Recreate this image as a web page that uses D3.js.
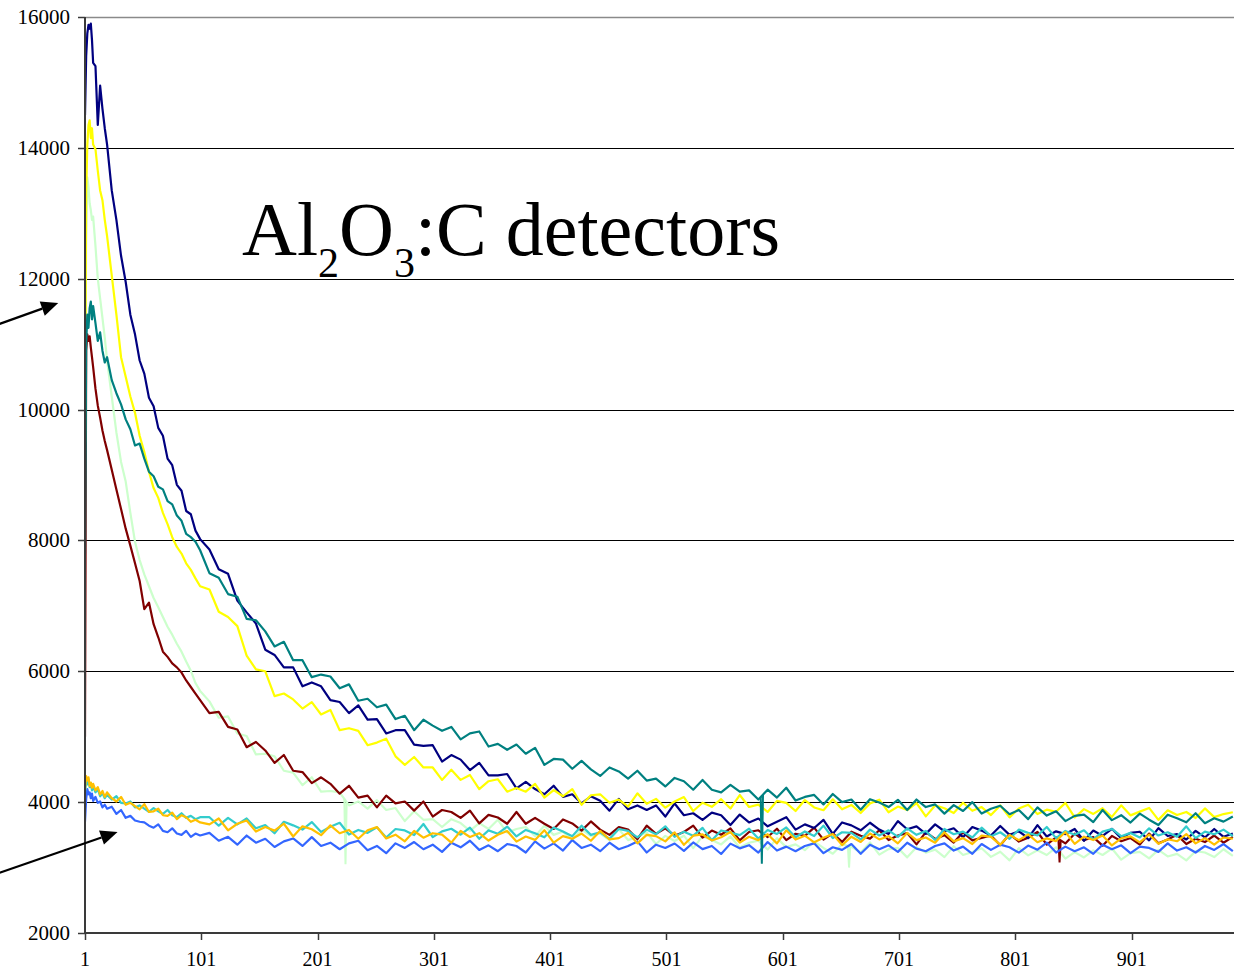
<!DOCTYPE html>
<html>
<head>
<meta charset="utf-8">
<script src="https://cdn.jsdelivr.net/npm/d3@7"></script>
<style>
  body { margin: 0; background: #fff; }
  svg { display: block; font-family: "Liberation Serif", "Times New Roman", serif; }
</style>
</head>
<body>
<div id="chart"></div>
<script>
// channel numbers the readings were taken at
const channels = [
  1, 2, 3, 4, 5, 6, 7, 8, 10, 12, 14, 16, 18, 20,
  24, 28, 32, 36, 40, 44, 48, 52, 56, 60, 64, 68, 72, 76, 80, 84, 88, 92, 96, 100,
  108, 116, 124, 132, 140, 148, 156, 164, 172, 180,
  188, 196, 204, 212, 220, 228, 236, 244, 252, 260,
  268, 276, 284, 292, 300, 308, 316, 324, 332, 340,
  348, 356, 364, 372, 380, 388, 396, 404, 412, 420,
  428, 436, 444, 452, 460, 468, 476, 484, 492, 500,
  508, 516, 524, 532, 540, 548, 556, 564, 572, 580,
  588, 596, 604, 612, 620, 628, 636, 644, 652, 660,
  668, 676, 684, 692, 700, 708, 716, 724, 732, 740,
  748, 756, 764, 772, 780, 788, 796, 804, 812, 820,
  828, 836, 844, 852, 860, 868, 876, 884, 892, 900,
  908, 916, 924, 932, 940, 948, 956, 964, 972, 980,
  988
];

const navy = [
  14500, 15400, 15750, 15880, 15820, 15900, 15650, 15300, 15250, 14350, 14950, 14600, 14300, 14050,
  13350, 12900, 12350, 11950, 11450, 11150, 10750, 10550, 10180, 10050, 9720, 9600, 9250, 9150, 8850, 8760, 8450, 8400, 8150, 8020,
  7860, 7560, 7490, 7080, 6900, 6730, 6330, 6250, 6060, 6060,
  5770, 5830, 5770, 5560, 5530, 5360, 5480, 5260, 5270, 5050,
  5100, 5100, 4880, 4860, 4870, 4620, 4720, 4650, 4490, 4600,
  4410, 4410, 4430, 4210, 4310, 4200, 4120, 4250, 4080, 4120,
  3980, 4090, 4020, 3870, 4050, 3890, 3950, 3880, 3950, 3780,
  3980, 3800, 3830, 3730, 3840, 3800, 3650, 3810, 3690, 3750,
  3630, 3700, 3770, 3580, 3660, 3605, 3730, 3515, 3690, 3645,
  3570, 3685, 3580, 3515, 3710, 3585, 3630, 3515, 3660, 3555,
  3600, 3465, 3620, 3565, 3490, 3635, 3500, 3555, 3450, 3648,
  3476, 3554, 3512, 3590, 3408, 3566, 3484, 3592, 3450, 3530,
  3548, 3416, 3604, 3482, 3510, 3430, 3560, 3460, 3590, 3470,
  3520
];

const teal = [
  7800, 11000, 11450, 11250, 11550, 11650, 11380, 11580, 11320, 11050, 11180, 10900, 10720, 10800,
  10450, 10250, 10080, 9850, 9700, 9450, 9480, 9250, 9050, 8980, 8820, 8780, 8600, 8550, 8380, 8300, 8100, 8050, 7980, 7850,
  7500, 7430, 7180, 7140, 6800, 6780, 6610, 6380, 6450, 6170,
  6170, 5910, 5950, 5920, 5740, 5800, 5550, 5580, 5450, 5490,
  5270, 5320, 5100, 5260, 5170, 5090, 5150, 4960, 5050, 5080,
  4850, 4890, 4800, 4880, 4740, 4830, 4570, 4660, 4650, 4510,
  4630, 4500, 4400, 4530, 4470, 4360, 4480, 4330, 4360, 4240,
  4370, 4320, 4190, 4340, 4190, 4150, 4265, 4160, 4180, 4040,
  4190, 4070, 4220, 4025, 4080, 4110, 3965, 4125, 4000, 4040,
  3885, 4045, 3995, 3925, 4035, 3880, 4040, 3925, 3965, 3825,
  3955, 3865, 4000, 3825, 3900, 3945, 3815, 3880, 3740, 3920,
  3795, 3860, 3710, 3790, 3810, 3695, 3880, 3725, 3800, 3688,
  3825, 3732, 3650, 3808, 3755, 3692, 3830, 3678, 3755, 3702,
  3780
];

const yellow = [
  9500, 13300, 14050, 14350, 14420, 14150, 14300, 14050, 13980, 13650, 13350, 13200, 12900, 12650,
  12050, 11450, 10800, 10500, 10200, 9950, 9600, 9350, 9050, 8800, 8650, 8420, 8250, 8050, 7900, 7800, 7650, 7550, 7420, 7300,
  7250, 6910, 6830, 6690, 6240, 6030, 6000, 5620, 5660, 5570,
  5430, 5530, 5340, 5410, 5100, 5130, 5090, 4870, 4910, 4970,
  4700, 4570, 4690, 4530, 4530, 4340, 4495, 4340, 4415, 4200,
  4320, 4350, 4160, 4215, 4160, 4280, 4070, 4185, 4090, 4200,
  3960, 4105, 4120, 3990, 4040, 3930, 4135, 3975, 4050, 3915,
  4010, 4077, 3864, 3991, 3928, 4045, 3902, 4109, 3926, 3963,
  3850, 4020, 3988, 3865, 4032, 3919, 3876, 4043, 3890, 3957,
  3834, 3981, 4038, 3845, 3932, 3879, 3986, 3783, 3950, 3907,
  3834, 3991, 3868, 3925, 3802, 3950, 3767, 3904, 3961, 3818,
  3885, 3852, 3989, 3766, 3893, 3820, 3907, 3774, 3951, 3798,
  3855, 3912, 3729, 3876, 3803, 3850, 3757, 3904, 3771, 3818,
  3845
];

const lightGreen = [
  9000, 12600, 13550, 13400, 13150, 13050, 12900, 12950, 12500, 12000, 11700, 11400, 11100, 10750,
  10200, 9650, 9200, 8900, 8420, 7980, 7700, 7480, 7300, 7120, 6980, 6830, 6680, 6560, 6420, 6300, 6150, 6010, 5820, 5700,
  5540, 5290, 5310, 5050, 5010, 4730, 4740, 4700, 4480, 4450,
  4260, 4380, 4160, 4170, 4150, 3950, 4010, 3900, 4030, 3880,
  3910, 3710, 3860, 3730, 3740, 3620, 3740, 3680, 3560, 3680,
  3590, 3730, 3535, 3590, 3620, 3480, 3640, 3500, 3550, 3420,
  3580, 3480, 3520, 3420, 3585, 3420, 3470, 3535, 3360, 3485,
  3406, 3487, 3298, 3480, 3422, 3354, 3476, 3308, 3380, 3412,
  3275, 3450, 3312, 3354, 3266, 3398, 3300, 3212, 3355, 3318,
  3231, 3385, 3198, 3282, 3300, 3156, 3312, 3228, 3274, 3160,
  3326, 3192, 3238, 3296, 3164, 3242, 3110, 3298, 3186, 3264,
  3192, 3310, 3138, 3236, 3154, 3263, 3192, 3291, 3120, 3220,
  3240, 3140, 3270, 3170, 3210, 3110, 3250, 3230, 3160, 3280,
  3180
];

const darkRed = [
  5000, 10900, 11150, 11050, 11120, 10950, 10800, 10650, 10320, 10060, 9880, 9680, 9520, 9380,
  9080, 8780, 8480, 8180, 7920, 7650, 7380, 6950, 7050, 6720, 6520, 6300, 6220, 6120, 6060, 5980, 5860, 5760, 5660, 5560,
  5360, 5380, 5150, 5110, 4840, 4920, 4790, 4600, 4720, 4480,
  4460, 4290, 4380, 4280, 4130, 4250, 4070, 4100, 3920, 4100,
  3980, 4010, 3870, 4010, 3780, 3880, 3850, 3760, 3870, 3675,
  3805, 3765, 3670, 3850, 3670, 3760, 3670, 3590, 3735, 3675,
  3565, 3705, 3580, 3500, 3620, 3580, 3435, 3640, 3515, 3600,
  3487, 3544, 3641, 3458, 3565, 3502, 3599, 3416, 3543, 3570,
  3467, 3594, 3420, 3517, 3484, 3611, 3428, 3525, 3392, 3549,
  3486, 3443, 3570, 3420, 3490, 3527, 3354, 3541, 3438, 3495,
  3382, 3539, 3416, 3453, 3490, 3340, 3510, 3398, 3456, 3544,
  3352, 3460, 3369, 3518, 3417, 3466, 3335, 3484, 3403, 3452,
  3351, 3520, 3370, 3430, 3500, 3360, 3440, 3390, 3490, 3380,
  3470
];

const blue = [
  3700, 4050, 4200, 4120, 4150, 4060, 4130, 4020, 4080, 3990, 4010, 3920, 3960, 3900,
  3930, 3820, 3880, 3760, 3790, 3720, 3700, 3690, 3640, 3610, 3660, 3560, 3540, 3600, 3520, 3500, 3560, 3470, 3520, 3490,
  3530, 3410, 3470, 3350, 3490, 3380, 3440, 3315, 3400, 3445,
  3330, 3465, 3330, 3380, 3280, 3370, 3410, 3265, 3330, 3220,
  3370, 3300, 3390, 3280, 3350, 3240, 3380, 3310, 3410, 3270,
  3340, 3250, 3360, 3330, 3230, 3400, 3290, 3370, 3260, 3420,
  3300, 3350, 3250, 3380, 3280, 3330, 3400, 3230, 3350, 3300,
  3368, 3256, 3384, 3282, 3330, 3208, 3366, 3294, 3342, 3230,
  3390, 3260, 3320, 3250, 3330, 3370, 3220, 3310, 3270, 3360,
  3210, 3350, 3280, 3340, 3240, 3380, 3290, 3250, 3330, 3370,
  3260, 3320, 3210, 3360, 3270, 3350, 3310, 3228, 3336, 3274,
  3382, 3230, 3320, 3250, 3310, 3210, 3350, 3280, 3340, 3220,
  3320, 3300, 3240, 3370, 3260, 3310, 3230, 3330, 3270, 3360,
  3250
];

const gold = [
  4200, 4400, 4330, 4380, 4250, 4300, 4220, 4280, 4180, 4230, 4120, 4170, 4080, 4150,
  4060, 4010, 4080, 3960, 3990, 3940, 3890, 3970, 3850, 3860, 3900, 3800, 3790, 3840, 3740, 3800, 3770, 3700, 3730, 3690,
  3660, 3750, 3570, 3670, 3720, 3550, 3620, 3565, 3670, 3475,
  3630, 3585, 3495, 3645, 3525, 3575, 3440, 3570, 3620, 3445,
  3503, 3401, 3559, 3457, 3525, 3503, 3381, 3559, 3467, 3525,
  3413, 3501, 3559, 3397, 3475, 3423, 3571, 3380, 3480, 3440,
  3520, 3410, 3560, 3430, 3450, 3530, 3370, 3500, 3480, 3400,
  3539, 3348, 3487, 3506, 3415, 3464, 3543, 3382, 3471, 3420,
  3510, 3370, 3569, 3428, 3487, 3386, 3455, 3514, 3343, 3472,
  3391, 3520, 3430, 3480, 3370, 3530, 3420, 3460, 3380, 3540,
  3400, 3450, 3360, 3490, 3470, 3350, 3500, 3419, 3508, 3387,
  3446, 3405, 3544, 3363, 3472, 3421, 3490, 3339, 3448, 3477,
  3386, 3505, 3364, 3433, 3402, 3511, 3370, 3450, 3350, 3460,
  3440
];

const cyan = [
  4150, 4320, 4270, 4350, 4230, 4290, 4180, 4240, 4150, 4200, 4090, 4140, 4060, 4110,
  4040, 4090, 3990, 3980, 4010, 3920, 3950, 3900, 3850, 3910, 3860, 3820, 3880, 3800, 3770, 3830, 3760, 3790, 3740, 3770,
  3770, 3640, 3760, 3660, 3750, 3600, 3650, 3525, 3700, 3645,
  3580, 3695, 3545, 3625, 3685, 3505, 3575, 3530, 3615, 3460,
  3589, 3568, 3497, 3666, 3465, 3554, 3593, 3502, 3611, 3440,
  3569, 3518, 3627, 3476, 3575, 3524, 3463, 3612, 3551, 3480,
  3640, 3500, 3540, 3440, 3590, 3560, 3460, 3580, 3510, 3630,
  3469, 3549, 3488, 3608, 3417, 3567, 3536, 3496, 3595, 3445,
  3574, 3514, 3613, 3463, 3552, 3482, 3641, 3451, 3540, 3530,
  3430, 3580, 3490, 3570, 3470, 3600, 3500, 3560, 3420, 3590,
  3510, 3550, 3460, 3610, 3480, 3540, 3440, 3580, 3530, 3490,
  3620, 3450, 3560, 3500, 3570, 3430, 3550, 3590, 3480, 3530,
  3460, 3600, 3490, 3540, 3470, 3630, 3450, 3550, 3510, 3580,
  3480
];

// single-channel drops seen in a few traces
const dips = [
  { series: 'lightGreen', ch: 225, low: 3050 },
  { series: 'lightGreen', ch: 658, low: 3000 },
  { series: 'teal', ch: 583, low: 3060 },
  { series: 'darkRed', ch: 839, low: 3080 }
];

const yTicks = [2000, 4000, 6000, 8000, 10000, 12000, 14000, 16000];
const xTicks = [1, 101, 201, 301, 401, 501, 601, 701, 801, 901];

// arrows pointing in from the (cropped) left margin, in channel / count units
const arrows = [
  { from: [-74, 11300], to: [-22, 11630] },
  { from: [-74, 2910], to: [29, 3545] }
];

// drawing order: later ones sit on top
const seriesList = [
  { name: 'lightGreen', color: '#ccffcc', values: lightGreen },
  { name: 'darkRed', color: '#800000', values: darkRed },
  { name: 'navy', color: '#000080', values: navy },
  { name: 'yellow', color: '#ffff00', values: yellow },
  { name: 'blue', color: '#3366ff', values: blue },
  { name: 'cyan', color: '#33cccc', values: cyan },
  { name: 'gold', color: '#ffc000', values: gold },
  { name: 'teal', color: '#008080', values: teal }
];

seriesList.forEach(s => {
  if (s.values.length !== channels.length) {
    throw new Error(`${s.name}: ${s.values.length} values for ${channels.length} channels`);
  }
});

const width = 1234;
const height = 972;
const plot = { left: 85, right: 1234, top: 17, bottom: 933 };

const x = d3.scaleLinear().domain([1, 989]).range([plot.left, plot.right]);
const y = d3.scaleLinear().domain([2000, 16000]).range([plot.bottom, plot.top]);

const svg = d3.select('#chart')
  .append('svg')
  .attr('width', width)
  .attr('height', height);

svg.append('rect')
  .attr('width', width)
  .attr('height', height)
  .attr('fill', '#fff');

svg.append('clipPath')
  .attr('id', 'plot-clip')
  .append('rect')
  .attr('x', plot.left)
  .attr('y', plot.top - 2)
  .attr('width', plot.right - plot.left)
  .attr('height', plot.bottom - plot.top + 2);

// gridlines
svg.append('g')
  .selectAll('line')
  .data(yTicks.filter(t => t > 2000))
  .enter()
  .append('line')
  .attr('x1', plot.left)
  .attr('x2', plot.right)
  .attr('y1', d => Math.round(y(d)) + 0.5)
  .attr('y2', d => Math.round(y(d)) + 0.5)
  .attr('stroke', d => d === 16000 ? '#8a8a8a' : '#000')
  .attr('stroke-width', d => d === 16000 ? 1.6 : 1);

// traces
const line = d3.line()
  .x((d, i) => x(channels[i]))
  .y(d => y(d));

const traces = svg.append('g').attr('clip-path', 'url(#plot-clip)');

seriesList.forEach(s => {
  traces.append('path')
    .datum(s.values)
    .attr('fill', 'none')
    .attr('stroke', s.color)
    .attr('stroke-width', 2.2)
    .attr('stroke-linejoin', 'round')
    .attr('d', line);

  // narrow dropouts belonging to this trace
  const at = d3.scaleLinear().domain(channels).range(s.values);
  dips.filter(d => d.series === s.name).forEach(d => {
    traces.append('path')
      .attr('fill', 'none')
      .attr('stroke', s.color)
      .attr('stroke-width', 2)
      .attr('d', d3.line()([
        [x(d.ch - 1), y(at(d.ch - 1))],
        [x(d.ch), y(d.low)],
        [x(d.ch + 1), y(at(d.ch + 1))]
      ]));
  });
});

// axes
const axisColor = '#3a3a3a';

svg.append('line')
  .attr('x1', plot.left).attr('x2', plot.left)
  .attr('y1', plot.top).attr('y2', plot.bottom)
  .attr('stroke', axisColor)
  .attr('stroke-width', 2);

svg.append('line')
  .attr('x1', plot.left - 1).attr('x2', plot.right)
  .attr('y1', plot.bottom).attr('y2', plot.bottom)
  .attr('stroke', axisColor)
  .attr('stroke-width', 2);

svg.append('g')
  .selectAll('line')
  .data(yTicks)
  .enter()
  .append('line')
  .attr('x1', plot.left - 7)
  .attr('x2', plot.left)
  .attr('y1', d => Math.round(y(d)) + 0.5)
  .attr('y2', d => Math.round(y(d)) + 0.5)
  .attr('stroke', axisColor)
  .attr('stroke-width', 1.5);

svg.append('g')
  .selectAll('text')
  .data(yTicks)
  .enter()
  .append('text')
  .attr('x', 70)
  .attr('y', d => y(d) + 7)
  .attr('text-anchor', 'end')
  .style('font-size', '21px')
  .style('fill', '#000')
  .text(d => d);

svg.append('g')
  .selectAll('line')
  .data(xTicks)
  .enter()
  .append('line')
  .attr('x1', d => Math.round(x(d)) + 0.5)
  .attr('x2', d => Math.round(x(d)) + 0.5)
  .attr('y1', plot.bottom)
  .attr('y2', plot.bottom + 7)
  .attr('stroke', axisColor)
  .attr('stroke-width', 1.5);

svg.append('g')
  .selectAll('text')
  .data(xTicks)
  .enter()
  .append('text')
  .attr('x', d => x(d))
  .attr('y', 966)
  .attr('text-anchor', 'middle')
  .style('font-size', '20px')
  .style('fill', '#000')
  .text(d => d);

// title inside the plot
const title = svg.append('text')
  .attr('x', 242)
  .attr('y', 255)
  .style('font-size', '76px')
  .style('fill', '#000');

title.append('tspan').text('Al');
title.append('tspan').attr('dy', 22).style('font-size', '42px').text('2');
title.append('tspan').attr('dy', -22).text('O');
title.append('tspan').attr('dy', 22).style('font-size', '42px').text('3');
title.append('tspan').attr('dy', -22).text(':C detectors');

// arrows
const arrowLayer = svg.append('g');

arrows.forEach(a => {
  const x0 = x(a.from[0]), y0 = y(a.from[1]);
  const x1 = x(a.to[0]), y1 = y(a.to[1]);
  const len = Math.hypot(x1 - x0, y1 - y0);
  const ux = (x1 - x0) / len, uy = (y1 - y0) / len;
  const headLen = 17, headHalf = 7.5;
  const bx = x1 - ux * headLen, by = y1 - uy * headLen;

  arrowLayer.append('line')
    .attr('x1', x0).attr('y1', y0)
    .attr('x2', bx).attr('y2', by)
    .attr('stroke', '#000')
    .attr('stroke-width', 2.2);

  arrowLayer.append('path')
    .attr('d', d3.line()([
      [x1, y1],
      [bx - uy * headHalf, by + ux * headHalf],
      [bx + uy * headHalf, by - ux * headHalf]
    ]) + 'Z')
    .attr('fill', '#000');
});
</script>
</body>
</html>
